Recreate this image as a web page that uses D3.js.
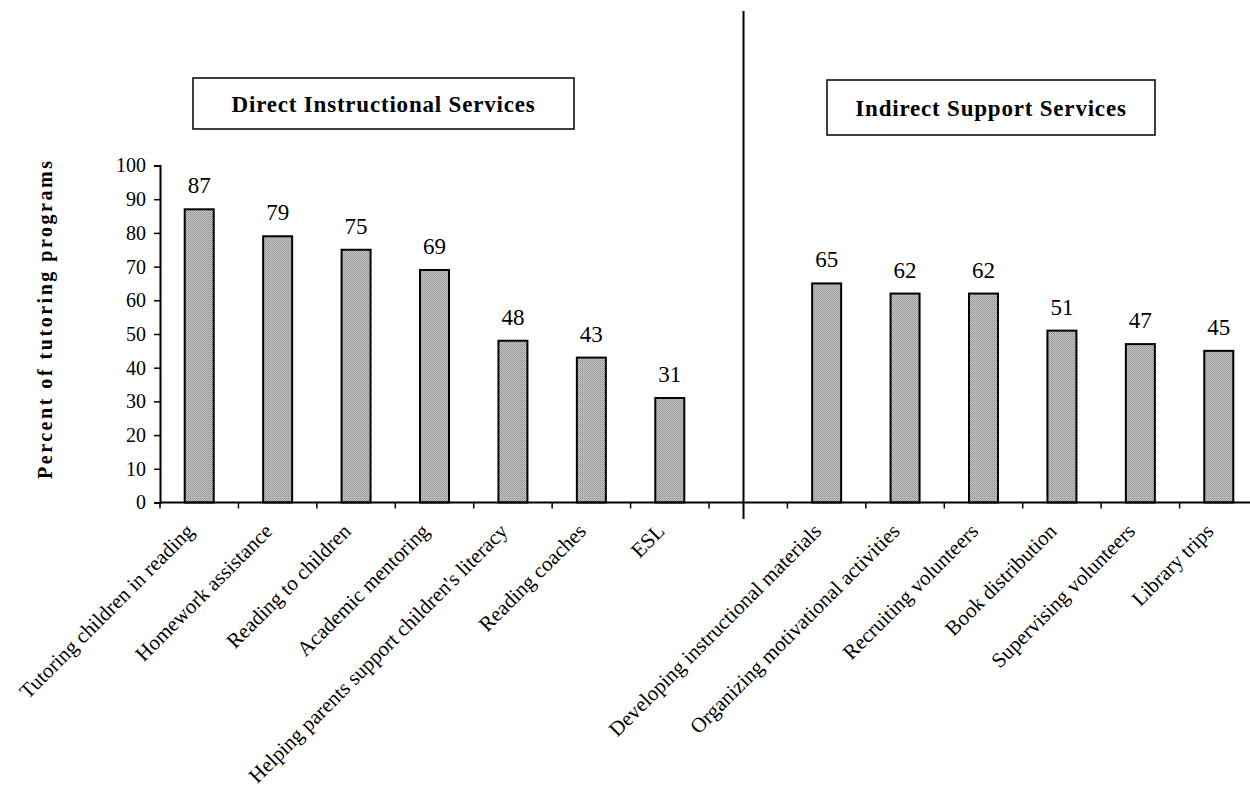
<!DOCTYPE html>
<html>
<head>
<meta charset="utf-8">
<script src="https://cdnjs.cloudflare.com/ajax/libs/d3/7.8.5/d3.min.js"></script>
<style>
  html, body { margin: 0; padding: 0; background: #fff; }
  svg { display: block; }
</style>
</head>
<body>
<svg id="chart" width="1250" height="794"></svg>
<script>
// Services offered by tutoring programs, grouped into two panels
const directCategories = [
  "Tutoring children in reading",
  "Homework assistance",
  "Reading to children",
  "Academic mentoring",
  "Helping parents support children's literacy",
  "Reading coaches",
  "ESL"
];
const directValues = [87, 79, 75, 69, 48, 43, 31];

const indirectCategories = [
  "Developing instructional materials",
  "Organizing motivational activities",
  "Recruiting volunteers",
  "Book distribution",
  "Supervising volunteers",
  "Library trips"
];
const indirectValues = [65, 62, 62, 51, 47, 45];

const panelTitles = ["Direct Instructional Services", "Indirect Support Services"];
const yTickValues = [0, 10, 20, 30, 40, 50, 60, 70, 80, 90, 100];
const yAxisTitle = "Percent of tutoring programs";

const GAP = "__gap__";
const rows = [
  ...directCategories.map((c, i) => ({ key: c, label: c, value: directValues[i] })),
  { key: GAP, label: "", value: null },
  ...indirectCategories.map((c, i) => ({ key: c, label: c, value: indirectValues[i] }))
];

const svg = d3.select("#chart");
const serif = "'Liberation Serif', 'Times New Roman', serif";

const x = d3.scaleBand()
  .domain(rows.map(d => d.key))
  .range([160, 1258])
  .paddingInner(0).paddingOuter(0);

const y = d3.scaleLinear().domain([0, 100]).range([502.5, 165.5]);

const barW = 29;

// stippled grey fill for bars
const defs = svg.append("defs");
const pat = defs.append("pattern")
  .attr("id", "stipple").attr("patternUnits", "userSpaceOnUse")
  .attr("width", 2).attr("height", 2);
pat.append("rect").attr("width", 2).attr("height", 2).attr("fill", "#c8c8c8");
pat.append("rect").attr("width", 1).attr("height", 1).attr("fill", "#8e8e8e");
pat.append("rect").attr("x", 1).attr("y", 1).attr("width", 1).attr("height", 1).attr("fill", "#9e9e9e");

// bars
const barRows = rows.filter(d => d.value !== null);
svg.append("g").selectAll("rect")
  .data(barRows)
  .join("rect")
  .attr("x", d => x(d.key) + (x.bandwidth() - barW) / 2)
  .attr("y", d => y(d.value))
  .attr("width", barW)
  .attr("height", d => y(0) - y(d.value))
  .attr("fill", "url(#stipple)")
  .attr("stroke", "#000")
  .attr("stroke-width", 2);

// value labels
svg.append("g").selectAll("text")
  .data(barRows)
  .join("text")
  .attr("x", d => x(d.key) + x.bandwidth() / 2)
  .attr("y", d => y(d.value) - 16)
  .attr("text-anchor", "middle")
  .attr("font-family", serif)
  .attr("font-size", 23)
  .attr("fill", "#000")
  .text(d => d.value);

// y axis
const yAxis = svg.append("g")
  .attr("transform", "translate(160,0)")
  .call(d3.axisLeft(y).tickValues(yTickValues).tickSize(6).tickPadding(8).tickFormat(d3.format("d")));
yAxis.select(".domain").attr("stroke", "#000").attr("stroke-width", 2);
yAxis.selectAll(".tick line").attr("stroke", "#000").attr("stroke-width", 1.5);
yAxis.selectAll(".tick text")
  .attr("font-family", serif).attr("font-size", 20).attr("fill", "#000");

// x axis with ticks at category boundaries
const boundaries = d3.range(rows.length + 1).map(i => x.range()[0] + i * x.step());
const xAxisG = svg.append("g");
xAxisG.append("line")
  .attr("x1", x.range()[0]).attr("x2", 1250)
  .attr("y1", y(0)).attr("y2", y(0))
  .attr("stroke", "#000").attr("stroke-width", 2);
xAxisG.selectAll("line.tick")
  .data(boundaries.filter(b => b < 1250))
  .join("line")
  .attr("class", "tick")
  .attr("x1", d => d).attr("x2", d => d)
  .attr("y1", y(0)).attr("y2", y(0) + 6)
  .attr("stroke", "#000").attr("stroke-width", 1.5);

// rotated category labels
svg.append("g").selectAll("text")
  .data(rows.filter(d => d.label))
  .join("text")
  .attr("transform", d => `translate(${x(d.key) + x.bandwidth() / 2 - 4},${y(0) + 30}) rotate(-45)`)
  .attr("text-anchor", "end")
  .attr("font-family", serif)
  .attr("font-size", 21)
  .attr("fill", "#000")
  .text(d => d.label);

// vertical divider between panels
const gapX = x(GAP) + x.bandwidth() * 0.44;
svg.append("line")
  .attr("x1", gapX).attr("x2", gapX)
  .attr("y1", 11).attr("y2", 519)
  .attr("stroke", "#000").attr("stroke-width", 2);

// panel title boxes
const boxes = [
  { title: panelTitles[0], x0: 193, x1: 574, y0: 78, y1: 129 },
  { title: panelTitles[1], x0: 827, x1: 1155, y0: 80, y1: 135 }
];
const bg = svg.append("g").selectAll("g").data(boxes).join("g");
bg.append("rect")
  .attr("x", d => d.x0).attr("y", d => d.y0)
  .attr("width", d => d.x1 - d.x0).attr("height", d => d.y1 - d.y0)
  .attr("fill", "#fff").attr("stroke", "#000").attr("stroke-width", 1.5);
bg.append("text")
  .attr("x", d => (d.x0 + d.x1) / 2)
  .attr("y", d => (d.y0 + d.y1) / 2 + 8)
  .attr("text-anchor", "middle")
  .attr("font-family", serif)
  .attr("font-weight", "bold")
  .attr("font-size", 23)
  .attr("letter-spacing", 0.8)
  .attr("fill", "#000")
  .text(d => d.title);

// y axis title
svg.append("text")
  .attr("transform", `translate(52,${(y(0) + y(100)) / 2 - 14}) rotate(-90)`)
  .attr("text-anchor", "middle")
  .attr("font-family", serif)
  .attr("font-weight", "bold")
  .attr("font-size", 20)
  .attr("textLength", 318)
  .attr("lengthAdjust", "spacing")
  .attr("fill", "#000")
  .text(yAxisTitle);
</script>
</body>
</html>
